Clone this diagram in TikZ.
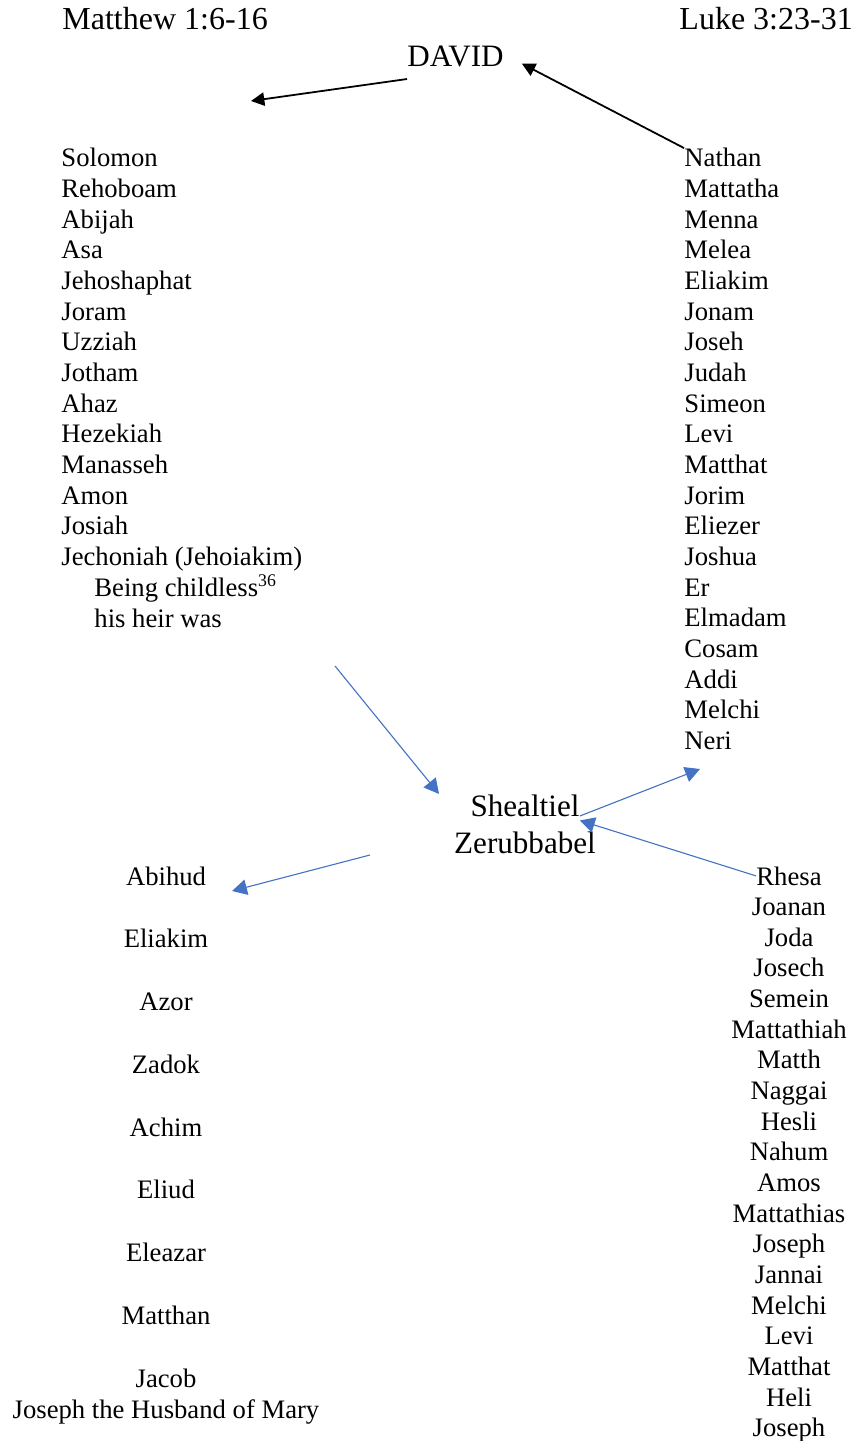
\documentclass[tikz,border=0pt]{standalone}
\usepackage{fontspec}
\setmainfont{Liberation Serif}
\usetikzlibrary{arrows.meta}
\definecolor{wordblue}{RGB}{68,114,196}

\tikzset{
  person/.style={inner sep=0pt,font=\fontsize{12}{13.8}\selectfont},
  headtext/.style={inner sep=0pt,font=\fontsize{14}{16.6}\selectfont},
  gospel/.style={inner sep=0pt,font=\fontsize{14.4}{16.6}\selectfont},
  blk/.style={-{Triangle[length=6pt,width=6pt]},line width=0.8pt},
  blu/.style={-{Triangle[length=6.7pt,width=7pt]},wordblue,line width=0.5pt},
}

\begin{document}
\begin{tikzpicture}[x=0.45pt,y=-0.45pt]
    \useasboundingbox (0,0) rectangle (851,1441);

    % Headings
    \node[gospel,anchor=base west] (matt) at (62,30) {Matthew 1:6-16};
    \node[gospel,anchor=base west] (luke) at (679,30) {Luke 3:23-31};
    \node[headtext,anchor=base west] (david) at (407,67) {DAVID};

    % Matthew: Solomon to Jechoniah
    \foreach \n [count=\i from 0] in {Solomon,Rehoboam,Abijah,Asa,Jehoshaphat,Joram,Uzziah,Jotham,Ahaz,Hezekiah,Manasseh,Amon,Josiah,Jechoniah (Jehoiakim)}
        \node[person,anchor=base west] (m\i) at (61,167+30.65*\i) {\n};
    \node[person,anchor=base west] (childless) at (94,596) {Being childless\textsuperscript{36}};
    \node[person,anchor=base west] (heir) at (94,627) {his heir was};

    % Luke: Nathan to Neri
    \foreach \n [count=\i from 0] in {Nathan,Mattatha,Menna,Melea,Eliakim,Jonam,Joseh,Judah,Simeon,Levi,Matthat,Jorim,Eliezer,Joshua,Er,Elmadam,Cosam,Addi,Melchi,Neri}
        \node[person,anchor=base west] (l\i) at (684,167+30.65*\i) {\n};

    % Shealtiel and Zerubbabel
    \node[headtext,anchor=base] (sheal) at (525,816) {Shealtiel};
    \node[headtext,anchor=base] (zerub) at (525,853) {Zerubbabel};

    % Matthew: Abihud to Joseph
    \foreach \n [count=\i from 0] in {Abihud,Eliakim,Azor,Zadok,Achim,Eliud,Eleazar,Matthan,Jacob}
        \node[person,anchor=base] (b\i) at (166,885+62.75*\i) {\n};
    \node[person,anchor=base] (husband) at (166,1418) {Joseph the Husband of Mary};

    % Luke: Rhesa to Joseph
    \foreach \n [count=\i from 0] in {Rhesa,Joanan,Joda,Josech,Semein,Mattathiah,Matth,Naggai,Hesli,Nahum,Amos,Mattathias,Joseph,Jannai,Melchi,Levi,Matthat,Heli,Joseph}
        \node[person,anchor=base] (r\i) at (789,885+30.65*\i) {\n};

    % Free ends
    \coordinate (mtop) at (251,101);
    \coordinate (heirend) at (335,666);
    \coordinate (nerihead) at (700,769);
    \coordinate (abistart) at (370,855);
    \coordinate (abihead) at (232,891);

    % Black arrows
    \draw[blk] ([yshift=-5pt]david.south west) -- (mtop);
    \draw[blk] (l0.north west) -- ([xshift=8pt,yshift=-3pt]david.east);

    % Blue arrows
    \draw[blu] (heirend) -- ([xshift=-14pt]sheal.north west);
    \draw[blu] (sheal.base east) -- (nerihead);
    \draw[blu] (r0.west) -- ([yshift=-2pt]sheal.base east);
    \draw[blu] (abistart) -- (abihead);
\end{tikzpicture}
\end{document}
